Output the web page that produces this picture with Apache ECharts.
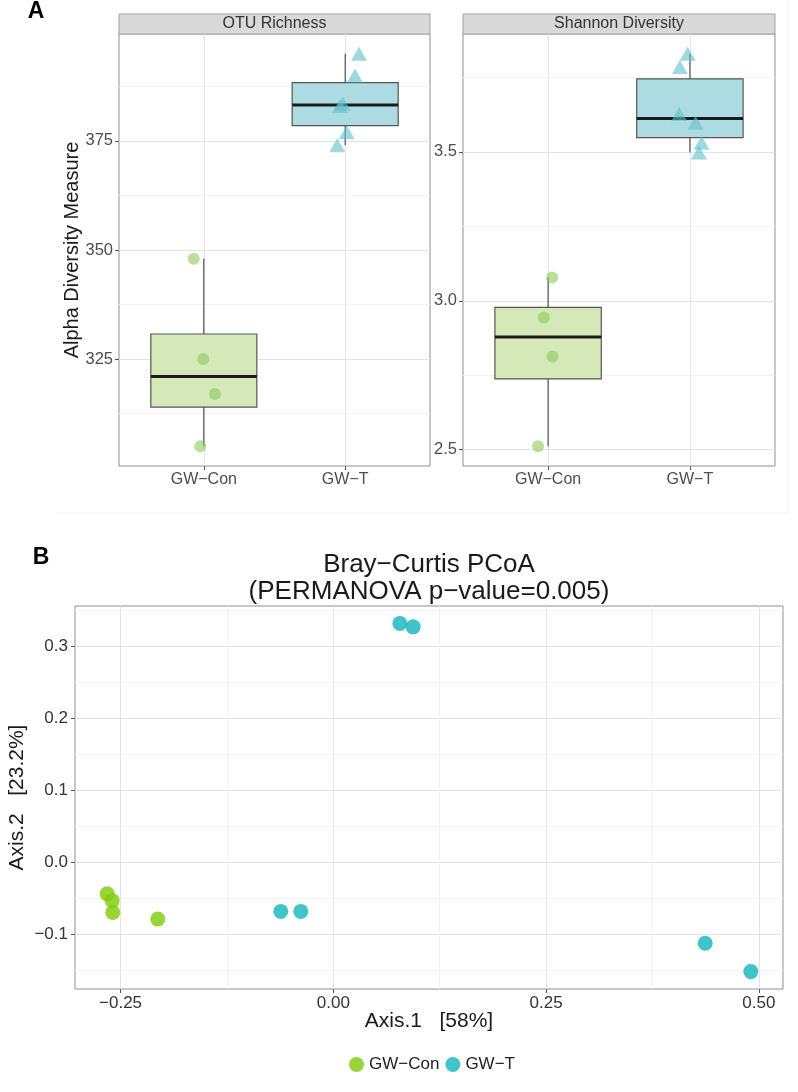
<!DOCTYPE html>
<html><head><meta charset="utf-8">
<script src="https://cdn.jsdelivr.net/npm/echarts@6/dist/echarts.min.js"></script>
<style>html,body{margin:0;padding:0;background:#fff}#c{width:798px;height:1092px}</style>
</head><body><div id="c"></div>
<script>
// ---------- data ----------
const groups = ['GW−Con', 'GW−T'];
const otuCon = [348, 325, 317, 305];
const otuConJitter = [-0.071, -0.004, 0.079, -0.025];
const otuT = [395, 390, 383, 383.5, 377, 374];
const otuTJitter = [0.098, 0.069, -0.037, -0.016, 0.011, -0.056];
const shanCon = [3.078, 2.944, 2.813, 2.511];
const shanConJitter = [0.028, -0.030, 0.031, -0.071];
const shanT = [3.83, 3.785, 3.627, 3.598, 3.531, 3.498];
const shanTJitter = [-0.016, -0.071, -0.075, 0.040, 0.082, 0.064];
const otuTicks = [325, 350, 375];
const shanTicks = [2.5, 3.0, 3.5];
const pcoaConX = [-0.2657, -0.2598, -0.2591, -0.2063];
const pcoaConY = [-0.0441, -0.0536, -0.0699, -0.0792];
const pcoaTX = [-0.0617, -0.0382, 0.0782, 0.0938, 0.4369, 0.4905];
const pcoaTY = [-0.0685, -0.0685, 0.3323, 0.3275, -0.1129, -0.1523];
const pcoaXTicks = [-0.25, 0, 0.25, 0.5];
const pcoaYTicks = [-0.1, 0, 0.1, 0.2, 0.3];

// ---------- helpers ----------
const FONT = '"Liberation Sans", Arial, Helvetica, sans-serif';
const MAJOR = '#e4e4e4', MINOR = '#f2f2f2', BORDER = '#8f8f8f';
function expand(vals){ const mn=Math.min(...vals), mx=Math.max(...vals), d=(mx-mn)*0.05; return [mn-d, mx+d]; }
function minorOf(ticks, r){ const d=ticks[1]-ticks[0]; const out=[]; for(let i=0;i<=ticks.length;i++){ const base=i<ticks.length?ticks[i]:ticks[ticks.length-1]+d; const v=+(base-d/2).toFixed(6); if(v>r[0]&&v<r[1]) out.push(v);} return out; }
function stats(v){ const s=[...v].sort((a,b)=>a-b); const qf=p=>{const h=(s.length-1)*p, lo=Math.floor(h), hi=Math.min(lo+1,s.length-1); return s[lo]+(h-lo)*(s[hi]-s[lo]);}; const q1=qf(.25), q3=qf(.75), iqr=q3-q1; const lo=Math.min(...s.filter(x=>x>=q1-1.5*iqr)); const hi=Math.max(...s.filter(x=>x<=q3+1.5*iqr)); return [lo,q1,qf(.5),q3,hi]; }
const minus = s => String(s).replace('-', '−');

const otuRange = expand(otuCon.concat(otuT));
const shanRange = expand(shanCon.concat(shanT));
const bxRange = expand(pcoaConX.concat(pcoaTX));
const byRange = expand(pcoaConY.concat(pcoaTY));

function mainAxis(gridIndex, range, ticks, fmt, fontSize, color, margin, extra){
  return Object.assign({
    type:'value', gridIndex, min:range[0], max:range[1], scale:true,
    nameMoveOverlap:false,
    axisLine:{show:false, onZero:false},
    axisTick:{show:true, length:4, customValues:ticks, lineStyle:{color:'#555', width:1}},
    axisLabel:{customValues:ticks, formatter:fmt, fontSize, color, fontFamily:FONT, margin},
    splitLine:{show:true, lineStyle:{color:MAJOR, width:1}},
    minorSplitLine:{show:false}
  }, extra||{});
}
function minorAxis(gridIndex, range, ticks, position){
  return {
    type:'value', gridIndex, min:range[0], max:range[1], position,
    axisLine:{show:false, onZero:false}, axisLabel:{show:false},
    axisTick:{show:false, customValues:ticks},
    splitLine:{show:true, lineStyle:{color:MINOR, width:1}}
  };
}
const catFmt = v => groups[Math.round(v)-1] || '';
function boxSeries(xi, yi, data, fills, name){
  return {
    type:'custom', name, xAxisIndex:xi, yAxisIndex:yi, z:2,
    data: data.map((v,i)=>[i+1].concat(stats(v))),
    encode:{x:0, y:[1,2,3,4,5]},
    renderItem:(params, api)=>{
      const x=api.value(0), hw=0.375;
      const pLo=api.coord([x,api.value(1)]), pQ1=api.coord([x,api.value(2)]), pMed=api.coord([x,api.value(3)]), pQ3=api.coord([x,api.value(4)]), pHi=api.coord([x,api.value(5)]);
      const L=api.coord([x-hw,api.value(3)])[0], R=api.coord([x+hw,api.value(3)])[0];
      return {type:'group', children:[
        {type:'line', shape:{x1:pLo[0],y1:pLo[1],x2:pQ1[0],y2:pQ1[1]}, style:{stroke:'#333',lineWidth:1}},
        {type:'line', shape:{x1:pQ3[0],y1:pQ3[1],x2:pHi[0],y2:pHi[1]}, style:{stroke:'#333',lineWidth:1}},
        {type:'rect', shape:{x:L,y:pQ3[1],width:R-L,height:pQ1[1]-pQ3[1]}, style:{fill:fills[params.dataIndex], stroke:'#555', lineWidth:1.2}},
        {type:'line', shape:{x1:L,y1:pMed[1],x2:R,y2:pMed[1]}, style:{stroke:'#1a1a1a',lineWidth:3}}
      ]};
    }
  };
}
const jit = (vals, j, c) => vals.map((v,i)=>[c + j[i], v]);
const GREEN_PT = 'rgba(140,202,88,0.75)', CYAN_PT = 'rgba(95,192,203,0.75)';
const BOX_FILLS = ['#d4e8b8', '#acdce2'];
const gridBase = {show:true, borderColor:BORDER, borderWidth:1, backgroundColor:'transparent', containLabel:false, outerBoundsMode:'none'};

const option = {
  animation:false,
  backgroundColor:'#fff',
  textStyle:{fontFamily:FONT},
  grid:[
    Object.assign({left:119, top:34, width:311, height:432}, gridBase),
    Object.assign({left:463, top:34, width:312, height:432}, gridBase),
    Object.assign({left:75, top:606, width:708, height:383}, gridBase)
  ],
  xAxis:[
    mainAxis(0, [0.4,2.6], [1,2], catFmt, 16, '#4d4d4d', 6, {position:'bottom'}),
    mainAxis(1, [0.4,2.6], [1,2], catFmt, 16, '#4d4d4d', 6, {position:'bottom'}),
    mainAxis(2, bxRange, pcoaXTicks, v=>minus(v.toFixed(2)), 17, '#333', 6, {position:'bottom', name:'Axis.1   [58%]', nameLocation:'middle', nameGap:22, nameTextStyle:{fontSize:21, color:'#1a1a1a', fontFamily:FONT}}),
    minorAxis(2, bxRange, minorOf(pcoaXTicks, bxRange), 'bottom')
  ],
  yAxis:[
    mainAxis(0, otuRange, otuTicks, v=>String(Math.round(v)), 16.5, '#4d4d4d', 6, {position:'left', name:'Alpha Diversity Measure', nameLocation:'middle', nameGap:37, nameTextStyle:{fontSize:20, color:'#1a1a1a', fontFamily:FONT}}),
    minorAxis(0, otuRange, minorOf(otuTicks, otuRange), 'left'),
    mainAxis(1, shanRange, shanTicks, v=>v.toFixed(1), 16.5, '#4d4d4d', 6, {position:'left'}),
    minorAxis(1, shanRange, minorOf(shanTicks, shanRange), 'left'),
    mainAxis(2, byRange, pcoaYTicks, v=>minus(v.toFixed(1)), 17, '#333', 7, {position:'left', name:'Axis.2   [23.2%]', nameLocation:'middle', nameGap:47, nameTextStyle:{fontSize:21, color:'#1a1a1a', fontFamily:FONT}}),
    minorAxis(2, byRange, minorOf(pcoaYTicks, byRange), 'left')
  ],
  legend:{
    data:groups, top:1051, left:344, icon:'circle', itemWidth:15, itemHeight:15, itemGap:6,
    textStyle:{fontSize:17, color:'#222', fontFamily:FONT}
  },
  graphic:[
    {type:'polyline', shape:{points:[[56,513],[788,513],[788,0]]}, style:{stroke:'#f2f2f2', lineWidth:1, fill:null}, silent:true},
    {type:'text', style:{text:'A', x:36, y:12, align:'center', verticalAlign:'middle', font:'bold 23px '+FONT, fill:'#000'}},
    {type:'text', style:{text:'B', x:41, y:558, align:'center', verticalAlign:'middle', font:'bold 23px '+FONT, fill:'#000'}},
    {type:'rect', shape:{x:119, y:14, width:311, height:20}, style:{fill:'#d9d9d9', stroke:'#a3a3a3', lineWidth:1}},
    {type:'text', style:{text:'OTU Richness', x:274.5, y:24, align:'center', verticalAlign:'middle', font:'16px '+FONT, fill:'#333'}},
    {type:'rect', shape:{x:463, y:14, width:312, height:20}, style:{fill:'#d9d9d9', stroke:'#a3a3a3', lineWidth:1}},
    {type:'text', style:{text:'Shannon Diversity', x:619, y:24, align:'center', verticalAlign:'middle', font:'16px '+FONT, fill:'#333'}},
    {type:'text', style:{text:'Bray−Curtis PCoA\n(PERMANOVA p−value=0.005)', x:429, y:578, align:'center', verticalAlign:'middle', font:'26px '+FONT, lineHeight:27, fill:'#1a1a1a'}}
  ],
  series:[
    boxSeries(0, 0, [otuCon, otuT], BOX_FILLS, 'otuBox'),
    boxSeries(1, 2, [shanCon, shanT], BOX_FILLS, 'shanBox'),
    {type:'scatter', name:'otuCon', xAxisIndex:0, yAxisIndex:0, z:3, symbol:'circle', symbolSize:12, itemStyle:{color:GREEN_PT}, data:jit(otuCon, otuConJitter, 1)},
    {type:'scatter', name:'otuT', xAxisIndex:0, yAxisIndex:0, z:3, symbol:'triangle', symbolSize:[16,14], itemStyle:{color:CYAN_PT}, data:jit(otuT, otuTJitter, 2)},
    {type:'scatter', name:'shanCon', xAxisIndex:1, yAxisIndex:2, z:3, symbol:'circle', symbolSize:12, itemStyle:{color:GREEN_PT}, data:jit(shanCon, shanConJitter, 1)},
    {type:'scatter', name:'shanT', xAxisIndex:1, yAxisIndex:2, z:3, symbol:'triangle', symbolSize:[16,14], itemStyle:{color:CYAN_PT}, data:jit(shanT, shanTJitter, 2)},
    {type:'scatter', name:groups[0], xAxisIndex:2, yAxisIndex:4, z:3, symbol:'circle', symbolSize:15, itemStyle:{color:'#7fcb05'}, data:pcoaConX.map((x,i)=>[x, pcoaConY[i]])},
    {type:'scatter', name:groups[1], xAxisIndex:2, yAxisIndex:4, z:3, symbol:'circle', symbolSize:15, itemStyle:{color:'#10b5bd'}, data:pcoaTX.map((x,i)=>[x, pcoaTY[i]])}
  ]
};
const chart = echarts.init(document.getElementById('c'), null, {renderer:'canvas'});
chart.setOption(option);
</script></body></html>
